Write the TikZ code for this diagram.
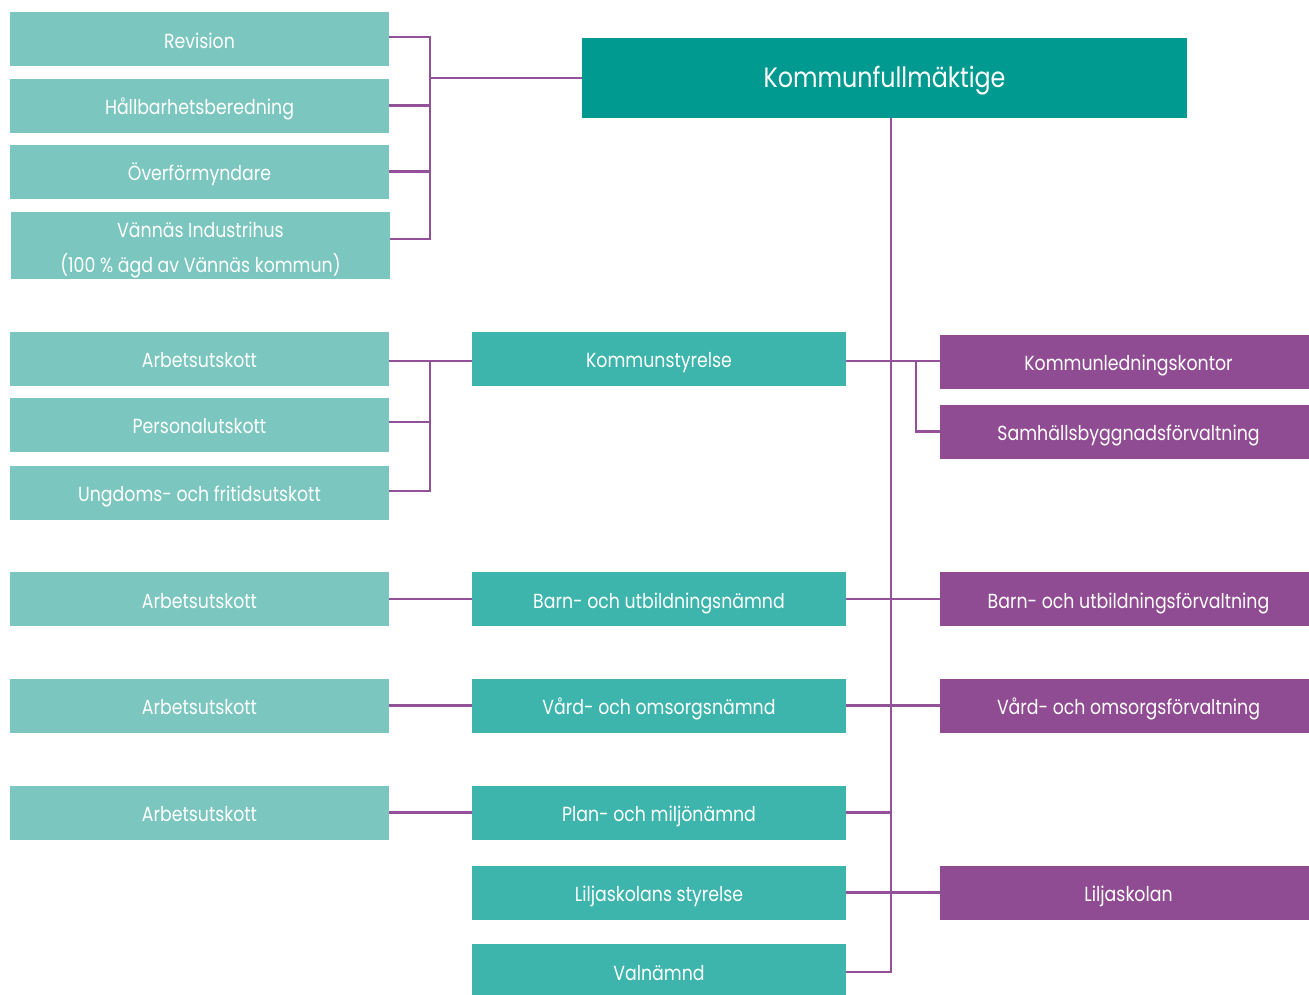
\documentclass[tikz,border=0pt]{standalone}
\usepackage{fontspec}
\setmainfont{Poppins}[FakeStretch=0.85]
\definecolor{lightteal}{HTML}{7BC6BE}
\definecolor{midteal}{HTML}{3DB5AC}
\definecolor{darkteal}{HTML}{009A90}
\definecolor{plum}{HTML}{904C92}
\definecolor{linec}{HTML}{93519A}
\begin{document}
\begin{tikzpicture}[x=1pt,y=-1pt,
  box/.style={inner sep=0pt,outer sep=0pt,text=white,font=\fontsize{20.4}{35}\selectfont,align=center,text height=18pt,text depth=0pt},
  lbox/.style={box,fill=lightteal,minimum width=379pt,minimum height=54pt},
  mbox/.style={box,fill=midteal,minimum width=374pt,minimum height=54pt},
  pbox/.style={box,fill=plum,minimum width=377pt,minimum height=54pt},
  conn/.style={draw=linec,line width=2.6pt}]
\useasboundingbox (0,0) rectangle (1309,994);
\begin{scope}
\clip (0,0) rectangle (1309,994);
% top
\node[box,fill=darkteal,minimum width=605pt,minimum height=80pt,font=\fontsize{28}{32}\selectfont,text height=19.4pt] (kf) at (884.5,78) {Kommunfullmäktige};
\node[lbox] (rev) at (199.5,39) {Revision};
\node[lbox] (hb) at (199.5,105.5) {Hållbarhetsberedning};
\node[lbox] (ov) at (199.5,171.5) {Överförmyndare};
\node[lbox,minimum height=67pt,text height=53pt,text depth=0pt] (vi) at (200.5,245.5) {Vännäs Industrihus\\(100 \% ägd av Vännäs kommun)};
% kommunstyrelse block
\node[lbox] (au1) at (199.5,358.5) {Arbetsutskott};
\node[lbox] (pu) at (199.5,424.5) {Personalutskott};
\node[lbox] (uf) at (199.5,492.5) {Ungdoms- och fritidsutskott};
\node[mbox] (ks) at (659,358.5) {Kommunstyrelse};
\node[pbox] (klk) at (1128.5,361.5) {Kommunledningskontor};
\node[pbox] (sbf) at (1128.5,431.5) {Samhällsbyggnadsförvaltning};
% rows
\node[lbox] (au2) at (199.5,599) {Arbetsutskott};
\node[mbox] (bun) at (659,599) {Barn- och utbildningsnämnd};
\node[pbox] (buf) at (1128.5,599) {Barn- och utbildningsförvaltning};
\node[lbox] (au3) at (199.5,705.5) {Arbetsutskott};
\node[mbox] (von) at (659,705.5) {Vård- och omsorgsnämnd};
\node[pbox] (vof) at (1128.5,705.5) {Vård- och omsorgsförvaltning};
\node[lbox] (au4) at (199.5,812.5) {Arbetsutskott};
\node[mbox] (pmn) at (659,812.5) {Plan- och miljönämnd};
\node[mbox] (lss) at (659,892.5) {Liljaskolans styrelse};
\node[pbox] (ljs) at (1128.5,892.5) {Liljaskolan};
\node[mbox,minimum height=54pt] (val) at (659,971) {Valnämnd};
\end{scope}
% coordinates
\coordinate (bus1t) at (430,37);
\coordinate (bus1b) at (430,239);
\coordinate (bus2t) at (430,361);
\coordinate (bus2b) at (430,491);
\coordinate (mt) at (891,118);
\coordinate (mb) at (891,972);
\coordinate (br) at (916,361);
% top-left bus
\draw[conn] (rev.east |- bus1t) -- (bus1t) -- (bus1b) -- (vi.east |- bus1b);
\draw[conn] (hb.east) -- (hb.east -| bus1t);
\draw[conn] (ov.east) -- (ov.east -| bus1t);
\draw[conn] (bus1t |- kf.west) -- (kf.west);
% kommunstyrelse bus
\draw[conn] (au1.east |- bus2t) -- (ks.west |- bus2t);
\draw[conn] (bus2t) -- (bus2b) -- (uf.east |- bus2b);
\draw[conn] (pu.east |- 0,422) -- (bus2t |- 0,422);
% main trunk
\draw[conn] (kf.south -| mt) -- (mb) -- (val.east |- mb);
\draw[conn] (ks.east |- br) -- (klk.west |- br);
\draw[conn] (br) -- (br |- sbf.west) -- (sbf.west);
\draw[conn] (au2.east) -- (bun.west);
\draw[conn] (bun.east) -- (buf.west);
\draw[conn] (au3.east) -- (von.west);
\draw[conn] (von.east) -- (vof.west);
\draw[conn] (au4.east) -- (pmn.west);
\draw[conn] (pmn.east) -- (pmn.east -| mt);
\draw[conn] (lss.east) -- (ljs.west);
\end{tikzpicture}
\end{document}
